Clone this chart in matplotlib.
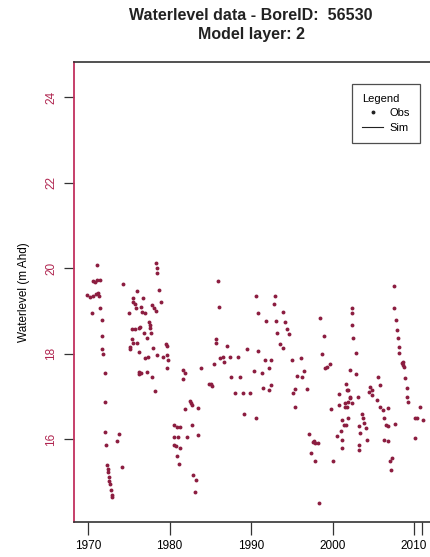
import matplotlib
matplotlib.use('Agg')
import matplotlib.pyplot as plt
from matplotlib.lines import Line2D

obs_year_70s = [1971.1, 1970.65, 1971.1, 1971.5, 1970.9, 1969.85, 1970.6, 1971.0, 1971.2, 1971.4, 1970.3,
                1970.5, 1971.5, 1971.7, 1971.7, 1971.7, 1971.8, 1972.1, 1972.1, 1972.1, 1972.2, 1973.8,
                1973.6, 1974.2, 1972.3, 1972.4, 1972.5, 1972.55, 1972.6, 1972.7, 1972.8, 1973.0, 1972.9,
                1974.3, 1976.0, 1975.5, 1975.5, 1975.8, 1976.8, 1975.9, 1976.5, 1976.6, 1977.0, 1975.0,
                1977.8, 1978.1, 1978.4, 1978.3, 1978.5, 1978.5, 1978.7, 1979.0, 1977.5, 1977.6, 1977.6,
                1976.9, 1977.7, 1977.3, 1975.4, 1975.8, 1976.2, 1976.4, 1975.4, 1975.5, 1975.2, 1975.1,
                1976.0, 1976.2, 1977.0, 1977.4, 1978.0, 1978.5, 1979.6, 1979.7, 1979.2, 1979.7, 1979.85,
                1979.7, 1976.3, 1976.45, 1976.3, 1977.2, 1977.9, 1978.2]
obs_level_70s = [20.07, 19.70, 19.72, 19.72, 19.68, 19.37, 19.35, 19.40, 19.42, 19.35, 19.33,
                 18.95, 19.07, 18.79, 18.41, 18.10, 18.00, 17.55, 16.87, 16.16, 15.86, 16.12,
                 15.95, 15.34, 15.40, 15.30, 15.22, 15.12, 15.03, 14.95, 14.80, 14.70, 14.64,
                 19.63, 19.47, 19.30, 19.20, 19.16, 19.30, 19.07, 19.10, 18.97, 18.95, 18.95,
                 19.14, 19.07, 19.00, 20.12, 20.00, 19.89, 19.50, 19.20, 18.74, 18.67, 18.60,
                 18.48, 18.48, 18.37, 18.58, 18.58, 18.60, 18.62, 18.34, 18.25, 18.15, 18.10,
                 18.25, 18.04, 17.90, 17.92, 18.13, 17.97, 18.22, 18.18, 17.92, 17.97, 17.85,
                 17.66, 17.57, 17.55, 17.52, 17.57, 17.45, 17.12]

obs_year_80s = [1985.9, 1986.1, 1990.6, 1990.8, 1985.7, 1985.7, 1987.1, 1989.5, 1990.9, 1986.2, 1986.6,
                1986.7, 1987.4, 1988.4, 1985.5, 1983.9, 1981.7, 1981.9, 1981.6, 1987.6, 1988.6, 1990.4,
                1984.9, 1985.05, 1985.25, 1988.0, 1989.0, 1989.9, 1982.5, 1982.6, 1982.8, 1981.9, 1983.5,
                1989.1, 1990.6, 1980.5, 1980.9, 1981.3, 1982.7, 1980.5, 1981.1, 1982.1, 1983.5, 1980.5,
                1980.8, 1981.3, 1980.9, 1981.2, 1982.9, 1983.2, 1983.1]
obs_level_80s = [19.70, 19.09, 19.35, 18.95, 18.34, 18.25, 18.18, 18.10, 18.06, 17.90, 17.92,
                 17.80, 17.92, 17.92, 17.76, 17.66, 17.62, 17.55, 17.40, 17.45, 17.45, 17.60,
                 17.30, 17.28, 17.24, 17.08, 17.08, 17.08, 16.90, 16.84, 16.80, 16.70, 16.73,
                 16.60, 16.50, 16.33, 16.28, 16.28, 16.33, 16.05, 16.05, 16.05, 16.09, 15.86,
                 15.84, 15.80, 15.60, 15.41, 15.16, 15.04, 14.76]

obs_year_90s = [1992.9, 1992.8, 1993.9, 1991.8, 1993.1, 1994.2, 1994.4, 1993.2, 1994.6, 1993.6, 1993.9,
                1998.5, 1998.9, 1998.7, 1991.7, 1992.5, 1995.0, 1996.1, 1992.2, 1996.5, 1996.3, 1995.7,
                1991.3, 1999.3, 1999.7, 1999.1, 1991.5, 1992.2, 1992.4, 1995.4, 1995.1, 1996.9, 1995.4,
                2000.8, 2001.8, 2000.8, 2001.5, 2001.8, 2001.9, 2002.1, 1999.8, 2001.1, 2001.4, 2001.0,
                2000.5, 2001.2, 2001.2, 1997.1, 1997.6, 1997.9, 1998.2, 1997.75, 1997.3, 1997.85, 2000.0,
                1998.3]
obs_level_90s = [19.35, 19.16, 18.97, 18.76, 18.76, 18.74, 18.58, 18.48, 18.46, 18.22, 18.13,
                 18.83, 18.41, 17.99, 17.85, 17.85, 17.85, 17.90, 17.66, 17.60, 17.45, 17.48,
                 17.55, 17.68, 17.75, 17.66, 17.20, 17.15, 17.26, 17.17, 17.08, 17.17, 16.75,
                 17.05, 17.15, 16.80, 16.84, 16.75, 16.87, 16.98, 16.70, 16.44, 16.33, 16.20,
                 16.07, 15.98, 15.80, 16.12, 15.93, 15.91, 15.91, 15.95, 15.67, 15.48, 15.48,
                 14.50]

obs_year_00s = [2007.5, 2007.5, 2007.8, 2007.9, 2008.0, 2008.1, 2008.2, 2002.35, 2002.4, 2002.4, 2002.55,
                2002.85, 2008.5, 2008.7, 2008.8, 2008.6, 2008.9, 2009.1, 2009.1, 2009.3, 2010.7, 2010.1,
                2011.1, 2010.3, 2010.1, 2002.1, 2002.9, 2001.7, 2001.9, 2002.1, 2002.35, 2001.5, 2001.9,
                2001.7, 2003.1, 2004.6, 2004.8, 2004.9, 2004.5, 2005.6, 2005.8, 2005.4, 2005.8, 2006.2,
                2006.8, 2003.6, 2003.7, 2003.8, 2003.2, 2003.4, 2003.2, 2003.2, 2004.1, 2004.2, 2006.35,
                2006.5, 2006.8, 2006.35, 2006.85, 2007.6, 2007.25, 2007.0, 2007.2]
obs_level_00s = [19.58, 19.07, 18.79, 18.55, 18.37, 18.15, 18.01, 19.07, 18.95, 18.67, 18.37,
                 18.01, 17.78, 17.73, 17.69, 17.80, 17.43, 17.19, 16.98, 16.87, 16.75, 16.50,
                 16.44, 16.50, 16.02, 17.62, 17.52, 17.30, 17.15, 16.96, 16.84, 16.75, 16.50,
                 16.33, 16.98, 17.22, 17.15, 17.03, 17.10, 17.45, 17.26, 16.91, 16.75, 16.68,
                 16.73, 16.60, 16.50, 16.37, 16.30, 16.14, 15.86, 15.74, 16.26, 15.98, 16.50,
                 16.33, 16.30, 15.98, 15.95, 16.35, 15.55, 15.48, 15.27]

obs_year = obs_year_70s + obs_year_80s + obs_year_90s + obs_year_00s
obs_level = obs_level_70s + obs_level_80s + obs_level_90s + obs_level_00s

x_ticks = [1970, 1980, 1990, 2000, 2010, 2011]
x_labels = ['1970', '1980', '1990', '2000', '2010', '']
y_ticks = [16, 18, 20, 22, 24]

plt.rcParams['font.family'] = ['Liberation Sans', 'DejaVu Sans']

fig = plt.figure(figsize=(4.3, 5.57), dpi=100)
ax = fig.add_axes([0.172, 0.0628, 0.863, 0.826])

ax.plot(obs_year, obs_level, linestyle='none', marker='o', markersize=2.8,
        color='#8c1d40', markeredgewidth=0)

ax.set_xlim(1968.28, 2013.8)
ax.set_ylim(14.06, 24.83)

ax.set_xticks(x_ticks)
ax.set_xticklabels(x_labels)
ax.set_yticks(y_ticks)
ax.set_yticklabels([str(t) for t in y_ticks], rotation=90, va='center', color='#b0244f')
ax.tick_params(axis='y', length=7, width=0.9, labelsize=8.5, color='#333333', pad=5)
ax.tick_params(axis='x', length=9, width=0.9, labelsize=8.5, color='#333333', pad=4)

ax.spines['left'].set_color('#c2305e')
ax.spines['left'].set_linewidth(1.3)
for s in ['top', 'bottom', 'right']:
    ax.spines[s].set_color('#333333')
    ax.spines[s].set_linewidth(1.2)

ax.set_ylabel('Waterlevel (m Ahd)', fontsize=8.5, labelpad=11)

fig.text(251 / 430, 1 - 16 / 557, 'Waterlevel data - BoreID:  56530', ha='center', va='center',
         fontsize=11.5, fontweight='bold', color='#222222')
fig.text(251 / 430, 1 - 34 / 557, 'Model layer: 2', ha='center', va='center',
         fontsize=11.5, fontweight='bold', color='#222222')

handles = [Line2D([], [], linestyle='none', marker='o', markersize=1.8, color='#222222'),
           Line2D([], [], color='#222222', linewidth=0.8)]
leg = ax.legend(handles, ['Obs', 'Sim'], title='Legend', loc='upper left',
                bbox_to_anchor=((352 - 74) / 371, 1 - (84 - 62) / 460),
                fontsize=8, title_fontsize=8, frameon=True, fancybox=False,
                edgecolor='#222222', handlelength=1.9, handletextpad=0.6,
                borderpad=0.9, labelspacing=0.4, borderaxespad=0, alignment='left')
leg.get_frame().set_linewidth(0.9)

plt.savefig('out.png', dpi=100)
plt.close()
